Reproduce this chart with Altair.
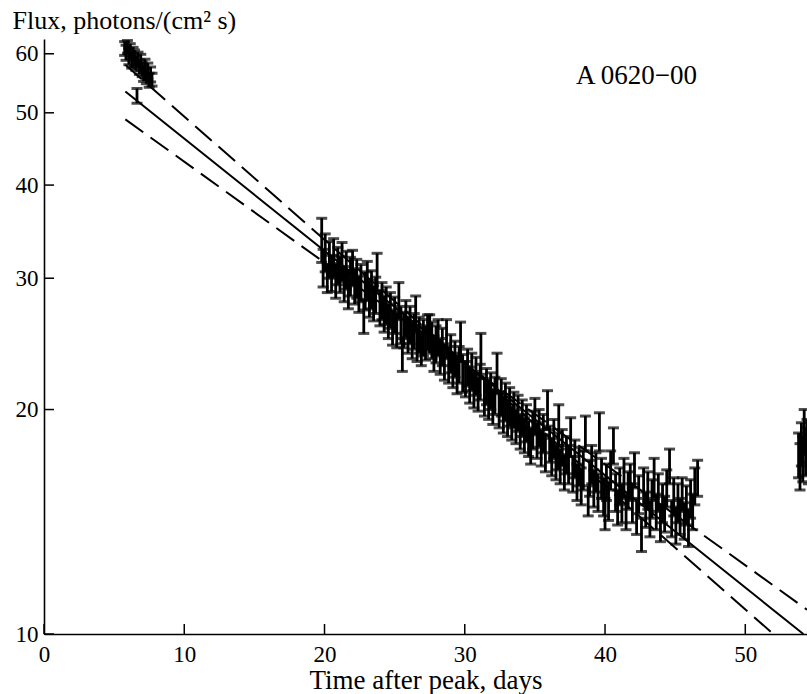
import altair as alt
import pandas as pd

# ---------------- data ----------------
# early observations (days after peak, flux, 1-sigma error)
early_time = [5.75, 5.85, 5.95, 6.05, 6.15, 6.25, 6.35, 6.45, 6.55, 6.63, 6.7,
              6.8, 6.9, 7.0, 7.1, 7.2, 7.3, 7.4, 7.5, 7.6, 7.7]
early_flux = [61.0, 60.2, 61.3, 59.5, 60.6, 58.8, 60.0, 59.2, 58.3, 52.7, 58.9,
              57.6, 58.4, 57.2, 56.5, 57.8, 56.0, 56.9, 55.3, 56.3, 55.4]
early_err = [1.3, 1.4, 1.2, 1.5, 1.3, 1.4, 1.2, 1.5, 1.3, 1.2, 1.4,
             1.3, 1.5, 1.3, 1.4, 1.2, 1.3, 1.4, 1.2, 1.3, 1.1]

# main decay segment
main_time = [19.80, 19.90, 20.05, 20.20, 20.35, 20.50, 20.65, 20.80, 20.95, 21.10,
             21.25, 21.40, 21.55, 21.70, 21.85, 22.00, 22.15, 22.30, 22.45, 22.60,
             22.80, 22.90, 23.05, 23.20, 23.35, 23.50, 23.65, 23.75, 23.95, 24.10,
             24.25, 24.40, 24.55, 24.70, 24.85, 25.00, 25.15, 25.30, 25.45, 25.55,
             25.65, 25.80, 25.95, 26.10, 26.25, 26.40, 26.50, 26.60, 26.75, 26.90,
             27.05, 27.20, 27.35, 27.50, 27.65, 27.80, 27.95, 28.10, 28.25, 28.40,
             28.55, 28.70, 28.85, 29.00, 29.15, 29.30, 29.45, 29.60, 29.70, 29.85,
             30.05, 30.20, 30.35, 30.50, 30.65, 30.80, 30.95, 31.10, 31.15, 31.40,
             31.55, 31.70, 31.85, 32.00, 32.15, 32.30, 32.45, 32.60, 32.75, 32.90,
             33.05, 33.20, 33.35, 33.50, 33.65, 33.80, 33.95, 34.10, 34.25, 34.40,
             34.55, 34.70, 34.85, 35.00, 35.15, 35.30, 35.45, 35.60, 35.75, 35.90,
             36.05, 36.20, 36.35, 36.50, 36.65, 36.70, 36.80, 36.95, 37.10, 37.25,
             37.40, 37.55, 37.70, 37.85, 38.00, 38.15, 38.30, 38.45, 38.60, 38.80,
             38.90, 39.05, 39.20, 39.35, 39.50, 39.60, 39.75, 39.90, 40.00, 40.10,
             40.25, 40.40, 40.60, 40.75, 40.90, 41.05, 41.20, 41.35, 41.50, 41.65,
             41.80, 41.95, 42.10, 42.25, 42.40, 42.60, 42.75, 42.90, 43.05, 43.20,
             43.35, 43.50, 43.65, 43.80, 43.95, 44.10, 44.25, 44.40, 44.60, 44.75,
             44.90, 45.05, 45.20, 45.35, 45.50, 45.65, 45.80, 45.95, 46.10, 46.25,
             46.40, 46.60]
main_flux = [33.8, 31.0, 32.5, 30.0, 31.8, 30.5, 32.0, 29.8, 31.2, 30.4,
             31.6, 29.5, 30.8, 29.0, 30.2, 31.0, 29.3, 30.0, 28.6, 29.6,
             26.7, 28.9, 29.8, 28.2, 29.0, 27.8, 28.5, 30.6, 27.4, 28.0,
             26.9, 27.6, 26.3, 27.2, 25.8, 26.8, 25.6, 28.0, 26.0, 23.7,
             25.6, 26.5, 25.2, 26.0, 24.8, 25.5, 26.9, 24.5, 25.2, 24.2,
             25.0, 24.6, 25.4, 25.3, 24.8, 23.8, 24.5, 25.0, 23.6, 24.3,
             23.2, 24.9, 23.0, 23.8, 22.6, 23.4, 22.2, 23.0, 24.7, 22.4,
             22.0, 22.8, 21.6, 22.5, 21.3, 22.2, 21.0, 21.8, 23.8, 20.8,
             21.5, 20.5, 21.2, 20.2, 20.9, 22.4, 20.0, 20.8, 19.7, 20.5,
             19.5, 20.2, 19.2, 20.0, 19.0, 19.8, 18.7, 19.5, 18.5, 19.2,
             18.3, 17.9, 18.8, 19.6, 18.2, 18.9, 17.8, 18.6, 17.5, 20.0,
             18.0, 17.3, 18.3, 17.0, 17.6, 19.1, 16.8, 17.8, 16.5, 17.4,
             16.9, 18.4, 16.4, 17.2, 16.0, 16.8, 15.8, 16.6, 18.6, 15.1,
             16.2, 16.9, 15.7, 16.5, 15.5, 18.7, 16.2, 15.3, 14.5, 16.0,
             15.1, 16.6, 17.9, 15.5, 14.8, 15.8, 15.0, 16.2, 14.6, 15.6,
             16.0, 15.0, 16.6, 14.4, 15.4, 13.6, 15.8, 14.7, 15.6, 14.3,
             15.2, 16.2, 14.6, 15.5, 14.1, 15.0, 14.5, 15.7, 16.8, 14.3,
             15.3, 14.0, 15.0, 14.4, 15.4, 14.2, 14.9, 13.9, 15.2, 14.6,
             15.8, 16.2]
main_err = [2.3, 1.8, 1.9, 1.3, 1.8, 1.7, 1.9, 1.6, 1.8, 1.7,
            1.9, 1.6, 1.8, 1.7, 1.8, 1.7, 1.6, 1.8, 1.6, 1.7,
            1.4, 1.7, 1.8, 1.6, 1.7, 1.5, 1.6, 1.8, 1.5, 1.6,
            1.5, 1.6, 1.4, 1.5, 1.4, 1.5, 1.4, 1.6, 1.5, 1.2,
            1.4, 1.5, 1.4, 1.5, 1.4, 1.4, 1.5, 1.3, 1.4, 1.3,
            1.4, 1.3, 1.4, 1.5, 1.4, 1.3, 1.4, 1.4, 1.3, 1.4,
            1.3, 1.5, 1.3, 1.4, 1.2, 1.3, 1.2, 1.3, 1.5, 1.3,
            1.2, 1.3, 1.2, 1.3, 1.2, 1.3, 1.1, 1.2, 1.5, 1.2,
            1.2, 1.1, 1.2, 1.1, 1.2, 1.4, 1.1, 1.2, 1.1, 1.2,
            1.1, 1.2, 1.0, 1.1, 1.0, 1.1, 1.0, 1.1, 1.0, 1.1,
            1.0, 1.0, 1.1, 1.1, 1.0, 1.1, 1.0, 1.1, 1.0, 1.2,
            1.0, 1.0, 1.1, 0.9, 1.0, 1.2, 0.9, 1.0, 0.9, 1.0,
            1.0, 1.1, 0.9, 1.0, 0.9, 1.0, 0.9, 1.0, 1.0, 0.7,
            0.9, 1.0, 0.9, 1.0, 0.9, 1.1, 1.0, 0.9, 0.7, 0.9,
            0.9, 1.0, 1.0, 0.9, 0.8, 0.9, 0.9, 1.0, 0.8, 0.9,
            0.9, 0.9, 0.9, 0.8, 0.9, 0.7, 0.9, 0.8, 0.9, 0.8,
            0.9, 1.0, 0.8, 0.9, 0.8, 0.9, 0.8, 0.9, 0.9, 0.8,
            0.9, 0.8, 0.9, 0.8, 0.8, 0.8, 0.9, 0.8, 0.9, 0.8,
            0.9, 0.9]

# late observations at the right edge
late_time = [53.8, 53.9, 54.0, 54.1, 54.2, 54.3, 54.4, 54.5]
late_flux = [17.4, 16.8, 18.0, 17.2, 18.7, 17.6, 18.2, 17.0]
late_err = [1.2, 1.2, 1.2, 1.2, 1.3, 1.3, 1.2, 1.1]

# exponential fit (solid) and its two limiting fits (dashed): end points
fit_time = [5.8, 54.14]
fit_flux = [53.4, 10.0]
steep_time = [5.8, 52.0]
steep_flux = [58.0, 10.0]
shallow_time = [5.8, 54.4]
shallow_flux = [49.0, 10.78]

x_ticks = [0, 10, 20, 30, 40, 50]
y_ticks = [10, 20, 30, 40, 50, 60]
source_name = "A 0620\u221200"
x_title = "Time after peak, days"
y_title = "Flux, photons/(cm\u00b2 s)"

# ---------------- chart ----------------
W, H = 763, 595
FONT = "Liberation Serif"

obs = pd.DataFrame({
    "t": early_time + main_time + late_time,
    "flux": early_flux + main_flux + late_flux,
    "err": early_err + main_err + late_err,
})
obs["lo"] = obs["flux"] - obs["err"]
obs["hi"] = obs["flux"] + obs["err"]

xs = alt.Scale(domain=[0, 54.4], nice=False, zero=False)
ys = alt.Scale(type="log", domain=[10, 62.8], nice=False)

x_axis = alt.Axis(values=x_ticks, ticks=False, grid=False, format="d",
                  domain=True, domainColor="black", domainWidth=1.6,
                  labelFont=FONT, labelFontSize=23, labelColor="black",
                  labelPadding=9, labelFlush=False, labelOverlap=False,
                  title=x_title, titleFont=FONT, titleFontSize=27,
                  titleFontWeight="normal", titleColor="black",
                  titleBaseline="alphabetic", titleY=54)
y_axis = alt.Axis(values=y_ticks, ticks=False, grid=False, format="d",
                  domain=True, domainColor="black", domainWidth=1.6,
                  labelFont=FONT, labelFontSize=23, labelColor="black",
                  labelPadding=6, labelFlush=False, labelOverlap=False,
                  title=y_title, titleFont=FONT, titleFontSize=26,
                  titleFontWeight="normal", titleColor="black",
                  titleAngle=0, titleAlign="left", titleBaseline="alphabetic",
                  titleX=-32, titleY=-11)


def X(field):
    return alt.X(field, type="quantitative", scale=xs, axis=x_axis)


def Y(field):
    return alt.Y(field, type="quantitative", scale=ys, axis=y_axis)


base = alt.Chart(obs)
bars = base.mark_rule(color="black", strokeWidth=2.8, clip=True).encode(
    x=X("t"), y=Y("lo"), y2="hi")
cap_lo = base.mark_tick(color="black", orient="horizontal", size=11,
                        thickness=3, clip=True).encode(x=X("t"), y=Y("lo"))
cap_hi = base.mark_tick(color="black", orient="horizontal", size=11,
                        thickness=3, clip=True).encode(x=X("t"), y=Y("hi"))


def line_layer(tt, ff, dash):
    df = pd.DataFrame({"t": tt, "f": ff})
    kw = dict(color="black", strokeWidth=2, clip=True)
    if dash:
        kw["strokeDash"] = [22, 9]
    return alt.Chart(df).mark_line(**kw).encode(x=X("t"), y=Y("f"))


fit = line_layer(fit_time, fit_flux, False)
steep = line_layer(steep_time, steep_flux, True)
shallow = line_layer(shallow_time, shallow_flux, True)

xt = alt.Chart(pd.DataFrame({"v": x_ticks})).mark_rule(
    color="black", strokeWidth=1.5).encode(
    x=X("v"), y=alt.value(H), y2=alt.value(H - 10))
yt = alt.Chart(pd.DataFrame({"v": y_ticks})).mark_rule(
    color="black", strokeWidth=1.5).encode(
    y=Y("v"), x=alt.value(0), x2=alt.value(10))

label = alt.Chart(pd.DataFrame({"name": [source_name]})).mark_text(
    align="left", baseline="alphabetic", font=FONT, fontSize=27,
    color="black").encode(x=alt.value(532), y=alt.value(45), text="name:N")

chart = alt.layer(bars, cap_lo, cap_hi, fit, steep, shallow, xt, yt, label).properties(
    width=W, height=H,
    padding={"left": 44, "top": 39, "right": 0, "bottom": 60},
    autosize=alt.AutoSizeParams(type="none"),
    background="white",
).configure_view(stroke=None)

chart.save("out.html", embed_options={"renderer": "svg", "actions": False})
